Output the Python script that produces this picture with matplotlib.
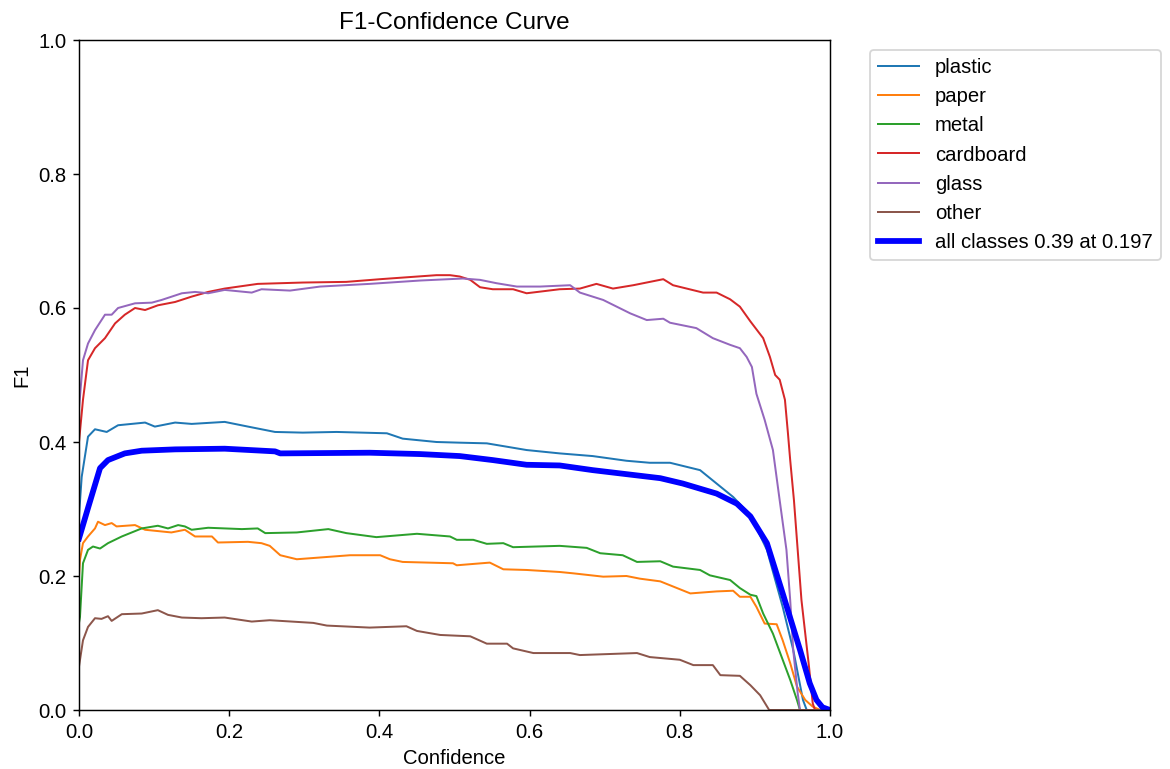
import matplotlib
matplotlib.use('Agg')
import matplotlib.pyplot as plt

plt.rcParams['font.family'] = ['Liberation Sans', 'DejaVu Sans']
plt.rcParams['font.size'] = 11.2

# values (confidence, F1)
plastic_x = [0.0, 0.0036, 0.012, 0.0213, 0.0369, 0.052, 0.088, 0.101, 0.128, 0.150, 0.194, 0.225,
             0.261, 0.298, 0.343, 0.410, 0.431, 0.476, 0.507, 0.543, 0.596, 0.640, 0.684, 0.729,
             0.760, 0.787, 0.827, 0.849, 0.871, 0.894, 0.916, 0.937, 0.951, 0.964, 0.969, 1.0]
plastic_y = [0.29, 0.348, 0.408, 0.419, 0.415, 0.425, 0.429, 0.423, 0.429, 0.427, 0.430, 0.423,
             0.415, 0.414, 0.415, 0.413, 0.405, 0.400, 0.399, 0.398, 0.388, 0.383, 0.379, 0.372,
             0.369, 0.369, 0.358, 0.338, 0.318, 0.291, 0.239, 0.154, 0.090, 0.015, 0.0, 0.0]

paper_x = [0.0, 0.0013, 0.0053, 0.012, 0.0213, 0.0253, 0.0346, 0.0435, 0.050, 0.0746, 0.088, 0.123,
           0.141, 0.1545, 0.177, 0.185, 0.225, 0.243, 0.254, 0.268, 0.290, 0.361, 0.401, 0.414,
           0.431, 0.498, 0.503, 0.547, 0.565, 0.596, 0.640, 0.658, 0.698, 0.729, 0.747, 0.774,
           0.814, 0.849, 0.871, 0.880, 0.894, 0.902, 0.913, 0.929, 0.937, 0.947, 0.956, 0.967,
           0.977, 0.987, 1.0]
paper_y = [0.20, 0.224, 0.249, 0.259, 0.271, 0.281, 0.276, 0.279, 0.274, 0.276, 0.269, 0.265,
           0.269, 0.259, 0.259, 0.250, 0.251, 0.249, 0.245, 0.231, 0.225, 0.231, 0.231, 0.225,
           0.221, 0.219, 0.216, 0.220, 0.210, 0.209, 0.206, 0.204, 0.199, 0.200, 0.196, 0.192,
           0.174, 0.177, 0.178, 0.169, 0.169, 0.154, 0.129, 0.128, 0.104, 0.070, 0.035, 0.015,
           0.005, 0.0, 0.0]

metal_x = [0.0, 0.0013, 0.0053, 0.012, 0.0186, 0.028, 0.0386, 0.057, 0.0835, 0.105, 0.1185, 0.132,
           0.141, 0.150, 0.172, 0.217, 0.238, 0.248, 0.290, 0.332, 0.356, 0.396, 0.450, 0.494,
           0.503, 0.525, 0.543, 0.565, 0.578, 0.640, 0.676, 0.694, 0.724, 0.743, 0.774, 0.791,
           0.827, 0.840, 0.867, 0.880, 0.894, 0.902, 0.911, 0.924, 0.937, 0.947, 0.956, 0.960, 1.0]
metal_y = [0.13, 0.139, 0.219, 0.239, 0.244, 0.241, 0.249, 0.259, 0.271, 0.275, 0.271, 0.276,
           0.274, 0.269, 0.272, 0.270, 0.271, 0.264, 0.265, 0.270, 0.264, 0.258, 0.263, 0.259,
           0.254, 0.254, 0.248, 0.249, 0.243, 0.245, 0.242, 0.234, 0.231, 0.221, 0.222, 0.214,
           0.209, 0.201, 0.194, 0.182, 0.172, 0.170, 0.144, 0.114, 0.075, 0.045, 0.015, 0.0, 0.0]

cardboard_x = [0.0, 0.0053, 0.012, 0.0213, 0.0346, 0.048, 0.061, 0.0746, 0.088, 0.105, 0.128, 0.150,
               0.172, 0.194, 0.238, 0.298, 0.356, 0.401, 0.476, 0.494, 0.507, 0.521, 0.534, 0.551,
               0.578, 0.596, 0.640, 0.667, 0.689, 0.711, 0.738, 0.778, 0.791, 0.831, 0.849, 0.867,
               0.880, 0.894, 0.911, 0.920, 0.927, 0.933, 0.940, 0.944, 0.947, 0.952, 0.962, 0.972,
               0.977, 0.980, 1.0]
cardboard_y = [0.40, 0.463, 0.522, 0.540, 0.555, 0.577, 0.590, 0.600, 0.597, 0.604, 0.609, 0.617,
               0.624, 0.629, 0.636, 0.638, 0.639, 0.643, 0.649, 0.649, 0.647, 0.642, 0.631, 0.628,
               0.628, 0.622, 0.628, 0.629, 0.636, 0.629, 0.634, 0.643, 0.634, 0.623, 0.623, 0.613,
               0.602, 0.580, 0.555, 0.527, 0.500, 0.493, 0.463, 0.413, 0.373, 0.313, 0.164, 0.065,
               0.010, 0.0, 0.0]

glass_x = [0.0, 0.0053, 0.012, 0.0213, 0.0346, 0.0435, 0.052, 0.0746, 0.097, 0.110, 0.137, 0.1545,
           0.172, 0.194, 0.230, 0.243, 0.281, 0.321, 0.387, 0.454, 0.511, 0.534, 0.556, 0.583,
           0.614, 0.654, 0.667, 0.698, 0.716, 0.734, 0.756, 0.778, 0.787, 0.822, 0.844, 0.867,
           0.880, 0.889, 0.896, 0.902, 0.913, 0.924, 0.933, 0.942, 0.947, 0.951, 0.957, 0.960, 1.0]
glass_y = [0.45, 0.522, 0.547, 0.567, 0.590, 0.590, 0.600, 0.607, 0.608, 0.612, 0.622, 0.624,
           0.622, 0.627, 0.623, 0.628, 0.626, 0.632, 0.636, 0.641, 0.644, 0.642, 0.637, 0.632,
           0.632, 0.634, 0.623, 0.612, 0.602, 0.592, 0.582, 0.584, 0.578, 0.570, 0.555, 0.545,
           0.540, 0.527, 0.512, 0.472, 0.433, 0.388, 0.313, 0.239, 0.164, 0.090, 0.025, 0.0, 0.0]

other_x = [0.0, 0.0053, 0.012, 0.0213, 0.030, 0.0386, 0.0435, 0.057, 0.0835, 0.105, 0.1185, 0.137,
           0.163, 0.194, 0.230, 0.254, 0.312, 0.330, 0.387, 0.436, 0.450, 0.481, 0.521, 0.543,
           0.570, 0.578, 0.605, 0.654, 0.667, 0.743, 0.760, 0.800, 0.818, 0.844, 0.854, 0.880,
           0.894, 0.907, 0.919, 1.0]
other_y = [0.065, 0.104, 0.124, 0.137, 0.136, 0.140, 0.133, 0.143, 0.144, 0.149, 0.142, 0.138,
           0.137, 0.138, 0.132, 0.134, 0.130, 0.126, 0.123, 0.125, 0.118, 0.112, 0.110, 0.099,
           0.099, 0.092, 0.085, 0.085, 0.082, 0.085, 0.079, 0.075, 0.067, 0.067, 0.052, 0.051,
           0.037, 0.022, 0.0, 0.0]

all_x = [0.0, 0.0124, 0.028, 0.0386, 0.061, 0.0835, 0.128, 0.194, 0.261, 0.268, 0.387, 0.454,
         0.507, 0.551, 0.596, 0.640, 0.684, 0.729, 0.774, 0.804, 0.849, 0.876, 0.894, 0.916,
         0.937, 0.960, 0.973, 0.982, 0.990, 1.0]
all_y = [0.256, 0.303, 0.361, 0.373, 0.383, 0.387, 0.389, 0.390, 0.386, 0.383, 0.384, 0.382,
         0.379, 0.373, 0.366, 0.365, 0.358, 0.352, 0.346, 0.338, 0.323, 0.308, 0.289, 0.249,
         0.174, 0.090, 0.040, 0.015, 0.004, 0.0]

names = ['plastic', 'paper', 'metal', 'cardboard', 'glass', 'other']
xs = [plastic_x, paper_x, metal_x, cardboard_x, glass_x, other_x]
ys = [plastic_y, paper_y, metal_y, cardboard_y, glass_y, other_y]

fig = plt.figure(figsize=(9, 769 / 130), dpi=130)
ax = fig.add_axes([79 / 1170, 59 / 769, 751 / 1170, 670 / 769])

for name, x, y in zip(names, xs, ys):
    ax.plot(x, y, linewidth=1.1, label=name)

ax.plot(all_x, all_y, linewidth=3.2, color='blue', label='all classes 0.39 at 0.197')

ax.set_xlim(0, 1)
ax.set_ylim(0, 1)
ax.set_xlabel('Confidence')
ax.set_ylabel('F1')
ax.set_title('F1-Confidence Curve')
ax.legend(bbox_to_anchor=(1.04, 1), loc='upper left')

fig.savefig('out.png', dpi=130)
